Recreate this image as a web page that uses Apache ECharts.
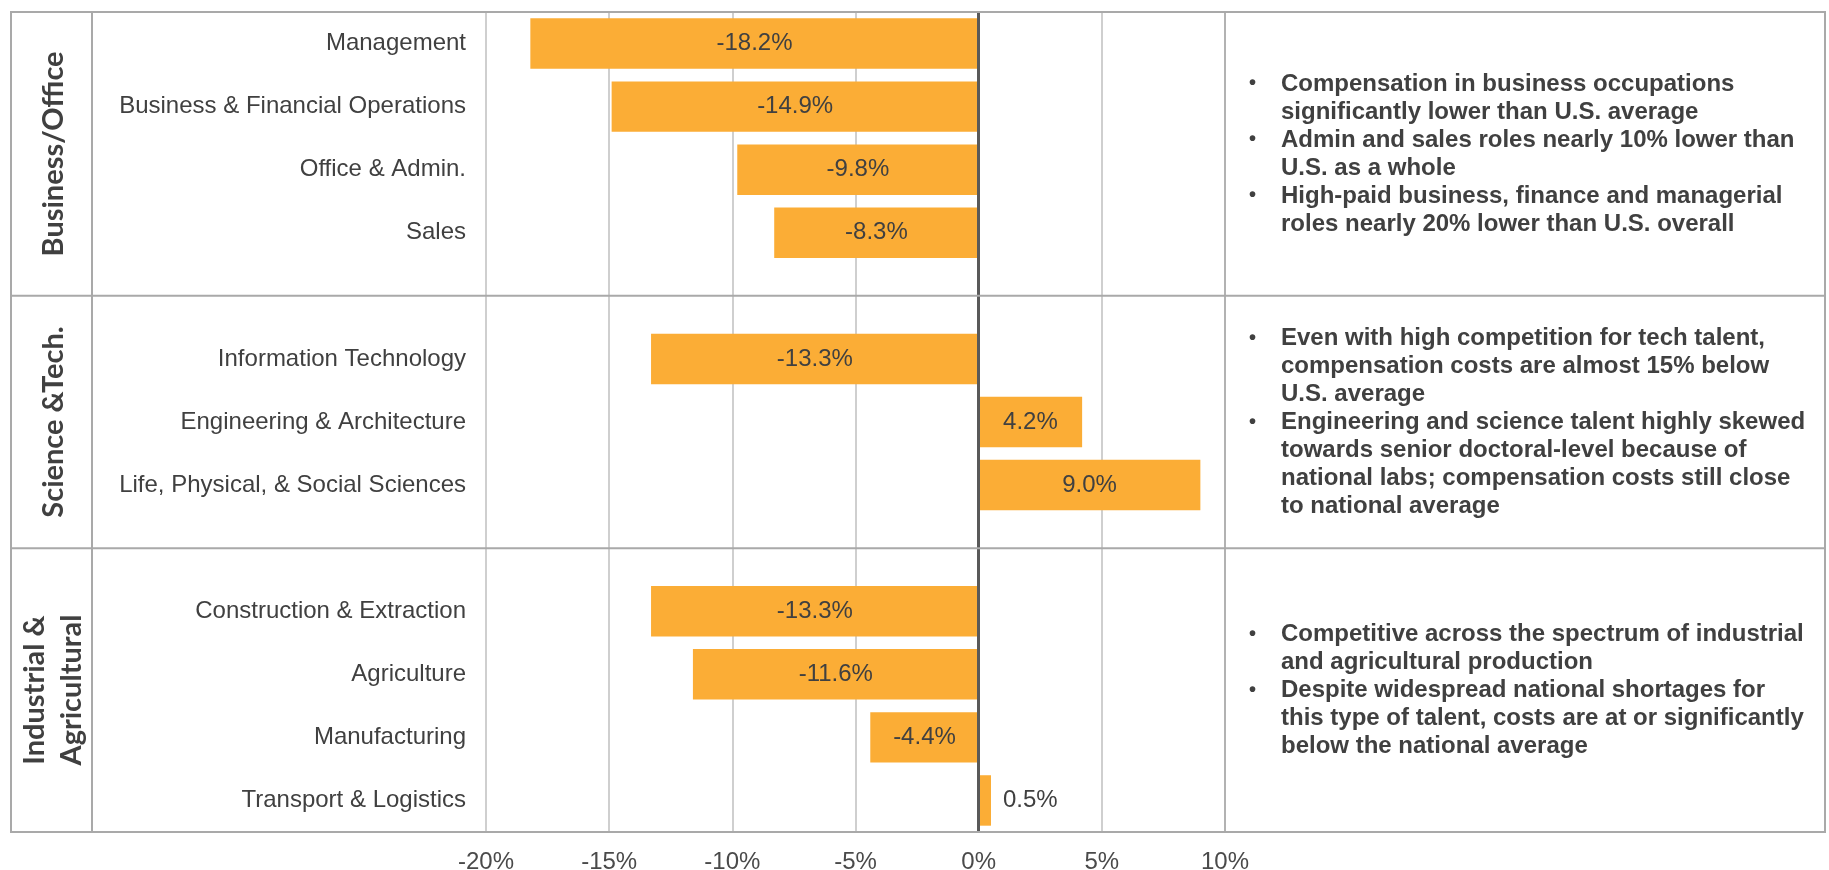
<!DOCTYPE html>
<html>
<head>
<meta charset="utf-8">
<script src="https://cdn.jsdelivr.net/npm/echarts@6/dist/echarts.min.js"></script>
<style>
html,body{margin:0;padding:0;background:#ffffff;}
#chart{width:1829px;height:870px;}
</style>
</head>
<body>
<div id="chart"></div>
<script>
// ---- data ----
const categories = [
  'Management', 'Business & Financial Operations', 'Office & Admin.', 'Sales',
  ' ',
  'Information Technology', 'Engineering & Architecture', 'Life, Physical, & Social Sciences',
  '  ',
  'Construction & Extraction', 'Agriculture', 'Manufacturing', 'Transport & Logistics'
];
const values = [-18.2, -14.9, -9.8, -8.3, null, -13.3, 4.2, 9.0, null, -13.3, -11.6, -4.4, 0.5];
const xMin = -20;
const xMax = 10;
const xStep = 5;
const groupNames = ['Business/Office', 'Science &Tech.', 'Industrial &\nAgricultural'];
const groupSpans = [[0, 3], [5, 7], [9, 12]];
const notes = [
  [
    'Compensation in business occupations\nsignificantly lower than U.S. average',
    'Admin and sales roles nearly 10% lower than\nU.S. as a whole',
    'High-paid business, finance and managerial\nroles nearly 20% lower than U.S. overall'
  ],
  [
    'Even with high competition for tech talent,\ncompensation costs are almost 15% below\nU.S. average',
    'Engineering and science talent highly skewed\ntowards senior doctoral-level because of\nnational labs; compensation costs still close\nto national average'
  ],
  [
    'Competitive across the spectrum of industrial\nand agricultural production',
    'Despite widespread national shortages for\nthis type of talent, costs are at or significantly\nbelow the national average'
  ]
];

(function () {
// ---- style ----
const FONT = '"Liberation Sans", Arial, sans-serif';
const TXT = '#404040';
const BAR = '#FBAD36';
const LINE = '#BFBFBF';
const FRAME = '#A9A9A9';

const chart = echarts.init(document.getElementById('chart'), null, {renderer: 'canvas'});

const seriesData = values.map(v => {
  if (v === null) return '-';
  const small = Math.abs(v) < 2;
  return {
    value: v,
    label: {position: small ? 'right' : 'inside', distance: 12}
  };
});

chart.setOption({
  animation: false,
  backgroundColor: '#ffffff',
  grid: {left: 486, right: 604, top: 12, bottom: 38, containLabel: false, outerBoundsMode: 'none'},
  xAxis: {
    type: 'value',
    min: xMin, max: xMax, interval: xStep,
    axisLine: {show: false},
    axisTick: {show: false},
    splitLine: {show: true, lineStyle: {color: LINE, width: 1.5}},
    axisLabel: {
      formatter: '{value}%',
      color: '#4a4a4a',
      fontFamily: FONT,
      fontSize: 24,
      margin: 18
    }
  },
  yAxis: {
    type: 'category',
    data: categories,
    inverse: true,
    axisLine: {show: false},
    axisTick: {show: false},
    splitLine: {show: false},
    axisLabel: {
      color: TXT,
      fontFamily: FONT,
      fontSize: 24,
      margin: 20,
      interval: 0
    }
  },
  series: [{
    type: 'bar',
    data: seriesData,
    barCategoryGap: '20%',
    itemStyle: {color: BAR},
    label: {
      show: true,
      color: TXT,
      fontFamily: FONT,
      fontSize: 24,
      formatter: p => p.value.toFixed(1) + '%'
    },
    markLine: {
      silent: true,
      symbol: ['none', 'none'],
      label: {show: false},
      lineStyle: {color: '#595959', width: 3, type: 'solid'},
      data: [{xAxis: 0}]
    }
  }]
});

// ---- table frame, group labels and notes, placed from the axes ----
function yPix(i) { return chart.convertToPixel({yAxisIndex: 0}, i); }
function xPix(v) { return chart.convertToPixel({xAxisIndex: 0}, v); }

const slot = yPix(1) - yPix(0);
const frameTop = yPix(0) - slot / 2;
const frameBottom = yPix(categories.length - 1) + slot / 2;
const frameLeft = 11, frameRight = 1825, colDivider = 92;
const noteLeft = xPix(xMax);

const graphics = [];
graphics.push({
  type: 'rect', silent: true, z: 10,
  shape: {x: frameLeft, y: frameTop, width: frameRight - frameLeft, height: frameBottom - frameTop},
  style: {fill: 'none', stroke: FRAME, lineWidth: 2}
});
graphics.push({
  type: 'line', silent: true, z: 10,
  shape: {x1: colDivider, y1: frameTop, x2: colDivider, y2: frameBottom},
  style: {stroke: FRAME, lineWidth: 2}
});
graphics.push({
  type: 'line', silent: true, z: 10,
  shape: {x1: noteLeft, y1: frameTop, x2: noteLeft, y2: frameBottom},
  style: {stroke: FRAME, lineWidth: 1.5}
});

const bounds = [];
groupSpans.forEach((span, gi) => {
  const y0 = gi === 0 ? frameTop : yPix(span[0] - 1);
  const y1 = gi === groupSpans.length - 1 ? frameBottom : yPix(span[1] + 1);
  bounds.push([y0, y1]);
  if (gi < groupSpans.length - 1) {
    const yd = yPix(span[1] + 1);
    graphics.push({
      type: 'line', silent: true, z: 10,
      shape: {x1: frameLeft, y1: yd, x2: frameRight, y2: yd},
      style: {stroke: FRAME, lineWidth: 2}
    });
  }
});

const LH = 28;
bounds.forEach((b, gi) => {
  const cy = (b[0] + b[1]) / 2;
  graphics.push({
    type: 'text', silent: true, z: 11,
    x: (frameLeft + colDivider) / 2 + 2, y: cy, rotation: Math.PI / 2,
    style: {
      text: groupNames[gi],
      font: 'bold 29px Lato, "Open Sans", sans-serif',
      fill: TXT, align: 'center', verticalAlign: 'middle', lineHeight: 37
    }
  });
  const lines = notes[gi].reduce((n, t) => n + t.split('\n').length, 0);
  let y = cy - lines * LH / 2;
  notes[gi].forEach(t => {
    graphics.push({
      type: 'text', silent: true, z: 11,
      x: noteLeft + 24, y: y,
      style: {text: '\u2022', font: 'bold 20px ' + FONT, fill: TXT, align: 'left', verticalAlign: 'top', lineHeight: LH}
    });
    graphics.push({
      type: 'text', silent: true, z: 11,
      x: noteLeft + 56, y: y,
      style: {text: t, font: 'bold 24px ' + FONT, fill: TXT, align: 'left', verticalAlign: 'top', lineHeight: LH}
    });
    y += t.split('\n').length * LH;
  });
});

chart.setOption({graphic: {elements: graphics}});
})();
</script>
</body>
</html>
